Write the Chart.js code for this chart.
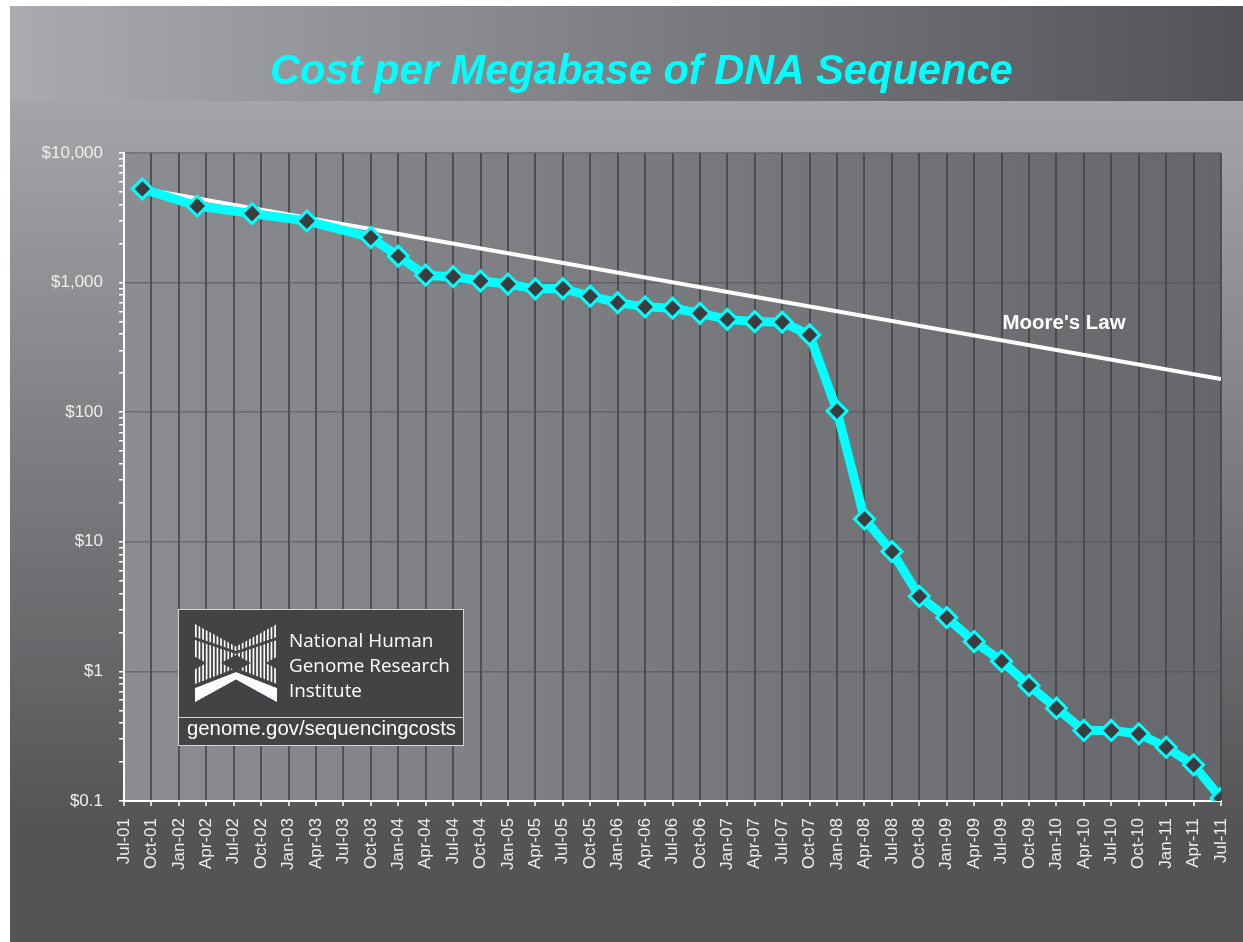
<!DOCTYPE html>
<html>
<head>
<meta charset="utf-8">
<script src="https://cdn.jsdelivr.net/npm/chart.js@4.4.1/dist/chart.umd.min.js"></script>
<style>
  html, body { margin: 0; padding: 0; background: #ffffff; overflow: hidden; }
  #wrap { width: 1243px; height: 942px; position: relative; }
  canvas { display: block; }
</style>
</head>
<body>
<div id="wrap"><canvas id="c" width="1243" height="942"></canvas></div>
<script>
// ---------------- DATA ----------------
const xTickLabels = [
  'Jul-01','Oct-01','Jan-02','Apr-02','Jul-02','Oct-02','Jan-03','Apr-03','Jul-03','Oct-03',
  'Jan-04','Apr-04','Jul-04','Oct-04','Jan-05','Apr-05','Jul-05','Oct-05','Jan-06','Apr-06',
  'Jul-06','Oct-06','Jan-07','Apr-07','Jul-07','Oct-07','Jan-08','Apr-08','Jul-08','Oct-08',
  'Jan-09','Apr-09','Jul-09','Oct-09','Jan-10','Apr-10','Jul-10','Oct-10','Jan-11','Apr-11','Jul-11'
];
const yTickLabels = ['$0.1', '$1', '$10', '$100', '$1,000', '$10,000'];

const costDates = [
  '2001-09','2002-03','2002-09','2003-03','2003-10',
  '2004-01','2004-04','2004-07','2004-10',
  '2005-01','2005-04','2005-07','2005-10',
  '2006-01','2006-04','2006-07','2006-10',
  '2007-01','2007-04','2007-07','2007-10',
  '2008-01','2008-04','2008-07','2008-10',
  '2009-01','2009-04','2009-07','2009-10',
  '2010-01','2010-04','2010-07','2010-10',
  '2011-01','2011-04','2011-07'
];
const costValues = [
  5290, 3900, 3410, 2990, 2230,
  1600, 1140, 1110, 1030,
  975, 895, 900, 785,
  700, 650, 635, 580,
  520, 500, 495, 395,
  102, 15, 8.4, 3.8,
  2.6, 1.7, 1.2, 0.78,
  0.52, 0.35, 0.35, 0.33,
  0.26, 0.19, 0.105
];
const mooreDates = ['2001-09', '2011-07'];
const mooreValues = [5290, 180];

const titleText = 'Cost per Megabase of DNA Sequence';
const mooreLabel = "Moore's Law";
const mooreLabelAt = { tick: 'Jul-09', value: 440 };
const instituteLines = ['National Human', 'Genome Research', 'Institute'];
const urlText = 'genome.gov/sequencingcosts';

// ------------- helpers -------------
const FONT = '"Liberation Sans", Arial, Helvetica, sans-serif';
function quarterIndex(d) {
  const [y, m] = d.split('-').map(Number);
  return ((y - 2001) * 12 + (m - 7)) / 3;
}
function fitSize(ctx, text, style, family, targetW, base) {
  ctx.font = style + ' ' + base + 'px ' + family;
  return base * targetW / ctx.measureText(text).width;
}

// ------------- plugins -------------
const backgroundPlugin = {
  id: 'bg',
  beforeDraw(chart) {
    const ctx = chart.ctx, W = chart.width, H = chart.height, a = chart.chartArea;
    ctx.save();
    ctx.fillStyle = '#ffffff';
    ctx.fillRect(0, 0, W, H);
    let g = ctx.createLinearGradient(0, 101, 0, 830);
    g.addColorStop(0, '#a4a5a9');
    g.addColorStop(1, '#545457');
    ctx.fillStyle = g;
    ctx.fillRect(10, 6, W - 10, H - 6);
    g = ctx.createLinearGradient(10, 0, W, 0);
    g.addColorStop(0, '#aaabaf');
    g.addColorStop(1, '#525356');
    ctx.fillStyle = g;
    ctx.fillRect(10, 6, W - 10, 95);
    g = ctx.createLinearGradient(a.left, 0, a.right, 0);
    g.addColorStop(0, '#8c8d91');
    g.addColorStop(1, '#66676b');
    ctx.fillStyle = g;
    ctx.fillRect(a.left, a.top, a.right - a.left, a.bottom - a.top);
    const ts = fitSize(ctx, titleText, 'italic bold', FONT, 743, 42);
    ctx.font = 'italic bold ' + ts + 'px ' + FONT;
    ctx.fillStyle = '#00ffff';
    ctx.textAlign = 'left';
    ctx.textBaseline = 'alphabetic';
    ctx.fillText(titleText, 270, 84);
    ctx.restore();
  }
};

function drawLogo(ctx, L, T, W, H, bg) {
  const R = L + W, B = T + H, cx = L + W / 2, h = H * 0.42;
  ctx.save();
  ctx.beginPath();
  ctx.moveTo(L, T); ctx.lineTo(R, B - h); ctx.lineTo(R, B); ctx.lineTo(L, T + h); ctx.closePath();
  ctx.moveTo(R, T); ctx.lineTo(R, T + h); ctx.lineTo(L, B); ctx.lineTo(L, B - h); ctx.closePath();
  ctx.clip('nonzero');
  ctx.fillStyle = '#ffffff';
  for (let x = L; x < R; x += 3.6) ctx.fillRect(x, T, 1.7, H);
  // solid lower legs
  ctx.beginPath();
  ctx.moveTo(L, B - 14); ctx.lineTo(cx, B - 30); ctx.lineTo(R, B - 14);
  ctx.lineTo(R, B); ctx.lineTo(L, B); ctx.closePath();
  ctx.fill();
  ctx.fillStyle = bg;
  // gap above solid legs
  ctx.beginPath();
  ctx.moveTo(L, B - 18); ctx.lineTo(cx, B - 34); ctx.lineTo(R, B - 18);
  ctx.lineTo(R, B - 14); ctx.lineTo(cx, B - 30); ctx.lineTo(L, B - 14); ctx.closePath();
  ctx.fill();
  // gap under upper arms
  ctx.beginPath();
  ctx.moveTo(L, T + 13); ctx.lineTo(cx, T + 27); ctx.lineTo(R, T + 13);
  ctx.lineTo(R, T + 16); ctx.lineTo(cx, T + 30); ctx.lineTo(L, T + 16); ctx.closePath();
  ctx.fill();
  // central diamond hole
  const cy = T + H / 2;
  ctx.beginPath();
  ctx.moveTo(cx, cy - 8); ctx.lineTo(cx + 15, cy); ctx.lineTo(cx, cy + 8); ctx.lineTo(cx - 15, cy); ctx.closePath();
  ctx.fill();
  ctx.restore();
}

const overlayPlugin = {
  id: 'overlay',
  afterDraw(chart) {
    const ctx = chart.ctx;
    const xs = chart.scales.x, ys = chart.scales.y;
    ctx.save();
    const ms = fitSize(ctx, mooreLabel, 'bold', FONT, 123, 20);
    ctx.font = 'bold ' + ms + 'px ' + FONT;
    ctx.fillStyle = '#ffffff';
    ctx.textAlign = 'left';
    ctx.textBaseline = 'alphabetic';
    ctx.fillText(mooreLabel, xs.getPixelForValue(xTickLabels.indexOf(mooreLabelAt.tick)) + 1, ys.getPixelForValue(mooreLabelAt.value));

    const bx = 178.5, by = 609.5, bw = 285, bh = 136, boxFill = '#434345';
    ctx.fillStyle = boxFill;
    ctx.fillRect(bx, by, bw, bh);
    ctx.strokeStyle = '#d4d4d4';
    ctx.lineWidth = 1;
    ctx.strokeRect(bx, by, bw, bh);
    ctx.beginPath();
    ctx.moveTo(bx, 717.5); ctx.lineTo(bx + bw, 717.5);
    ctx.stroke();
    drawLogo(ctx, 195, 624, 82, 78, boxFill);
    const fam2 = '"Open Sans", "Noto Sans", sans-serif';
    const is = fitSize(ctx, instituteLines[1], '', fam2, 161, 19);
    ctx.font = is + 'px ' + fam2;
    ctx.fillStyle = '#ffffff';
    const baselines = [647, 672, 697];
    instituteLines.forEach((t, i) => ctx.fillText(t, 289, baselines[i]));
    const us = fitSize(ctx, urlText, '', FONT, 269, 20);
    ctx.font = us + 'px ' + FONT;
    ctx.fillText(urlText, 187, 735);
    ctx.restore();
  }
};

// ------------- chart -------------
const costData = costDates.map((d, i) => ({ x: quarterIndex(d), y: costValues[i] }));
const mooreData = mooreDates.map((d, i) => ({ x: quarterIndex(d), y: mooreValues[i] }));

new Chart(document.getElementById('c').getContext('2d'), {
  type: 'line',
  data: {
    datasets: [
      {
        label: 'Cost per Megabase',
        data: costData,
        borderColor: '#00ffff',
        borderWidth: 9,
        borderJoinStyle: 'round',
        borderCapStyle: 'round',
        pointStyle: 'rectRot',
        pointRadius: 10,
        pointBorderWidth: 3,
        pointBackgroundColor: '#3c3c3e',
        pointBorderColor: '#00ffff',
        tension: 0
      },
      {
        label: "Moore's Law",
        data: mooreData,
        borderColor: '#ffffff',
        borderWidth: 4,
        pointRadius: 0,
        tension: 0
      }
    ]
  },
  options: {
    responsive: false,
    animation: false,
    devicePixelRatio: 1,
    layout: { padding: { left: 10, top: 153, right: 22, bottom: 0 } },
    plugins: { legend: { display: false }, tooltip: { enabled: false }, title: { display: false } },
    scales: {
      x: {
        type: 'linear',
        min: 0,
        max: xTickLabels.length - 1,
        afterFit(s) { s.height = 141; s.paddingLeft = 0; s.paddingRight = 0; },
        afterBuildTicks(s) { s.ticks = xTickLabels.map((_, i) => ({ value: i })); },
        ticks: {
          autoSkip: false,
          maxRotation: 90,
          minRotation: 90,
          color: '#eeeeee',
          font: { family: FONT, size: 17 },
          padding: 12,
          callback: (v) => xTickLabels[Math.round(v)] || ''
        },
        grid: {
          color: 'rgba(66,66,70,0.8)',
          lineWidth: 2,
          tickColor: '#ffffff',
          tickLength: 5,
          tickWidth: 1.5
        },
        border: { color: '#ffffff', width: 2 }
      },
      y: {
        type: 'logarithmic',
        min: 0.1,
        max: 10000,
        afterFit(s) { s.width = 114; s.paddingTop = 0; s.paddingBottom = 0; },
        afterBuildTicks(s) {
          const t = [];
          for (let e = 0; e < yTickLabels.length; e++) {
            const base = Math.pow(10, e - 1);
            for (let m = 1; m <= 9; m++) {
              if (e === yTickLabels.length - 1 && m > 1) break;
              t.push({ value: +(m * base).toPrecision(3), major: m === 1 });
            }
          }
          s.ticks = t;
        },
        ticks: {
          autoSkip: false,
          color: '#eeeeee',
          font: { family: FONT, size: 17 },
          padding: 16,
          callback: (v, i, ticks) => ticks[i].major ? yTickLabels[Math.round(Math.log10(v)) + 1] : ''
        },
        grid: {
          color: (c) => (c.tick && c.tick.major) ? 'rgba(80,80,84,0.55)' : 'rgba(0,0,0,0)',
          lineWidth: 1.5,
          tickColor: '#ffffff',
          tickLength: 5,
          tickWidth: 1.5
        },
        border: { color: '#ffffff', width: 2 }
      }
    }
  },
  plugins: [backgroundPlugin, overlayPlugin]
});
</script>
</body>
</html>
